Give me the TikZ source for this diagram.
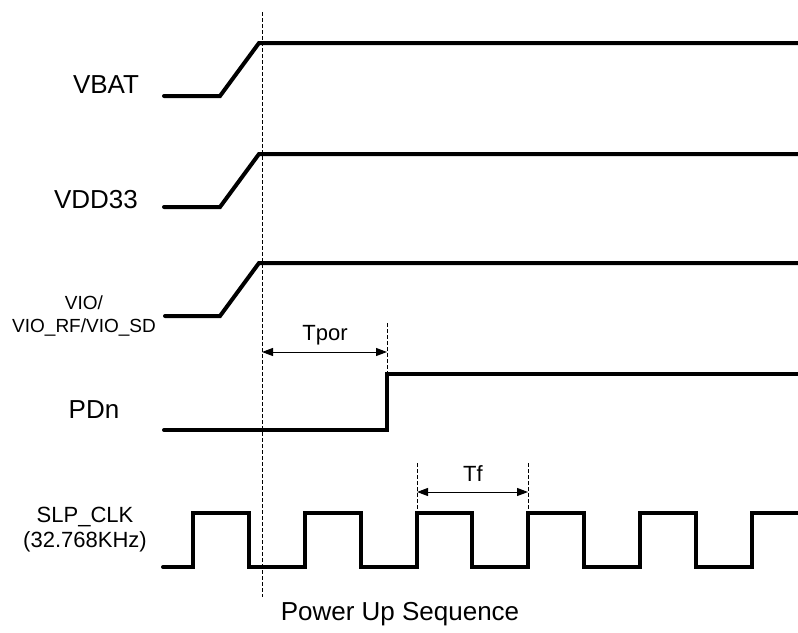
\documentclass[tikz,border=0pt]{standalone}
\usepackage{fontspec}
\setmainfont{Liberation Sans}
\usetikzlibrary{arrows.meta}
\begin{document}
\begin{tikzpicture}[x=1pt,y=-1pt,
  sig/.style={line width=4pt,line join=miter,line cap=round},
  guide/.style={line width=0.9pt,dash pattern=on 4pt off 2pt},
  dim/.style={line width=1pt,{Triangle[length=11pt,width=8pt]}-{Triangle[length=11pt,width=8pt]}},
  lbl/.style={inner sep=0pt,font=\fontsize{26}{30}\selectfont},
  lblm/.style={inner sep=0pt,font=\fontsize{22}{25}\selectfont,align=center},
  lbls/.style={inner sep=0pt,font=\fontsize{19}{23}\selectfont,align=center}]
\useasboundingbox (0,0) rectangle (798,632);
% labels
\node[lbl] (vbat) at (106,85) {VBAT};
\node[lbl] (vdd) at (96,200) {VDD33};
\node[lbls] (vio) at (84,316) {VIO/\\VIO\_RF/VIO\_SD};
\node[lbl] (pdn) at (94,410) {PDn};
\node[lblm] (clk) at (85,530) {SLP\_CLK\\(32.768KHz)};
\node[lbl] (cap) at (400,614) {Power Up Sequence};
% signals
\draw[sig] (164,96) -- (220,96) -- (259,43) -- (798,43);
\draw[sig] (164,207) -- (220,207) -- (259,154) -- (798,154);
\draw[sig] (165,316) -- (220,316) -- (259,263) -- (798,263);
\draw[sig] (164,430) -- (387,430) -- (387,374) -- (798,374);
\draw[sig] (163,567) -- (193,567) -- (193,513) -- (249,513) -- (249,567)
  -- (305,567) -- (305,513) -- (361,513) -- (361,567)
  -- (417,567) -- (417,513) -- (472,513) -- (472,567)
  -- (528,567) -- (528,513) -- (584,513) -- (584,567)
  -- (640,567) -- (640,513) -- (696,513) -- (696,567)
  -- (752,567) -- (752,513) -- (798,513);
% guides
\coordinate (g0t) at (262,12); \coordinate (g0b) at (262,597);
\draw[guide] (g0t) -- (g0b);
\coordinate (g1t) at (387,323); \coordinate (g1b) at (387,374);
\draw[guide] (g1t) -- (g1b);
\coordinate (g2t) at (417,463); \coordinate (g2b) at (417,513);
\coordinate (g3t) at (528,463); \coordinate (g3b) at (528,513);
\draw[guide] (g2t) -- (g2b);
\draw[guide] (g3t) -- (g3b);
% dimensions
\coordinate (tpa) at (262,352); \coordinate (tpb) at (387,352);
\draw[dim] (tpa) -- (tpb);
\node[lblm] (tpor) at (325,335) {Tpor};
\coordinate (tfa) at (417,492); \coordinate (tfb) at (528,492);
\draw[dim] (tfa) -- (tfb);
\node[lblm] (tf) at (473,474) {Tf};
\end{tikzpicture}
\end{document}
